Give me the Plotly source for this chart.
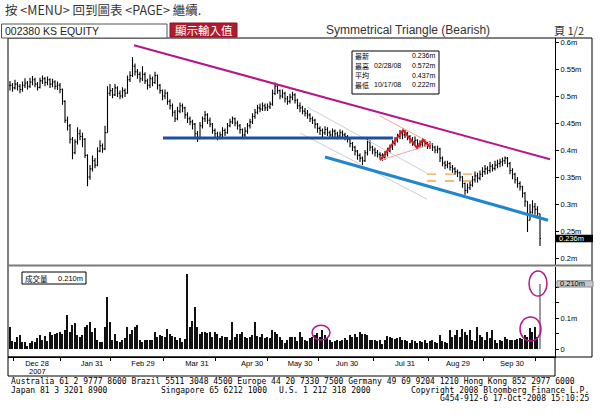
import plotly.graph_objects as go

# ---------------- data (prices in thousands of KRW, volume in thousands of shares) -------------
close = [520, 515, 522, 518, 512, 520, 524, 518, 526, 530,
         522, 516, 528, 532, 525, 530, 522, 526, 518, 520,
         512, 490, 455, 445, 420, 395, 415, 430, 425, 420,
         390, 350, 365, 380, 372, 398, 408, 402, 432, 505,
         510, 502, 515, 505, 500, 510, 505, 530, 538, 555,
         545, 540, 532, 540, 528, 520, 532, 525, 538, 520,
         510, 500, 505, 490, 482, 470, 458, 472, 482, 478,
         465, 458, 452, 448, 430, 422, 445, 458, 465, 455,
         448, 436, 430, 424, 428, 436, 432, 445, 452, 458,
         450, 445, 438, 428, 435, 445, 452, 462, 470, 478,
         476, 482, 478, 480, 485, 505, 518, 510, 500, 505,
         495, 490, 498, 502, 492, 482, 478, 472, 468, 465,
         458, 455, 448, 440, 436, 432, 438, 432, 428, 435,
         430, 426, 432, 428, 425, 420, 412, 405, 398, 390,
         385, 380, 395, 415, 405, 400, 395, 392, 390, 386,
         392, 398, 405, 412, 418, 425, 430, 428, 432, 425,
         420, 415, 418, 412, 410, 416, 412, 408, 410, 405,
         400, 402, 385, 376, 372, 375, 368, 365, 360, 358,
         350, 338, 325, 330, 335, 345, 352, 348, 355, 360,
         365, 362, 370, 366, 372, 375, 378, 380, 385, 375,
         362, 355, 345, 338, 332, 320, 305, 270, 285, 295,
         290, 282, 236]
high = [528, 524, 530, 526, 522, 527, 533, 528, 534, 537,
        534, 526, 534, 538, 535, 536, 533, 532, 529, 527,
        524, 514, 492, 462, 448, 424, 420, 442, 438, 432,
        422, 392, 372, 390, 385, 405, 418, 412, 445, 518,
        522, 515, 522, 518, 510, 516, 514, 538, 546, 572,
        560, 550, 545, 555, 544, 532, 540, 536, 545, 540,
        522, 512, 512, 508, 494, 486, 474, 480, 488, 486,
        480, 470, 462, 456, 450, 435, 452, 462, 472, 468,
        460, 450, 440, 434, 434, 442, 440, 450, 458, 462,
        460, 454, 448, 440, 442, 450, 458, 468, 476, 484,
        486, 488, 486, 486, 490, 512, 525, 520, 512, 512,
        508, 500, 504, 508, 505, 495, 488, 482, 478, 474,
        468, 462, 458, 450, 444, 440, 444, 442, 436, 440,
        438, 434, 438, 436, 432, 428, 422, 415, 408, 400,
        394, 388, 400, 422, 418, 408, 404, 400, 396, 394,
        398, 404, 410, 418, 424, 430, 437, 435, 437, 434,
        428, 424, 425, 420, 418, 422, 420, 415, 416, 413,
        408, 408, 404, 388, 380, 380, 378, 372, 368, 364,
        360, 352, 340, 338, 342, 352, 360, 358, 362, 368,
        372, 370, 378, 374, 380, 382, 384, 386, 388, 387,
        378, 366, 358, 350, 342, 334, 322, 290, 300, 307,
        302, 296, 276]
low = [510, 508, 512, 510, 505, 508, 515, 512, 515, 520,
       516, 510, 514, 522, 518, 520, 515, 516, 512, 511,
       505, 484, 450, 436, 412, 383, 392, 410, 418, 405,
       385, 333, 345, 360, 366, 370, 396, 395, 400, 440,
       500, 496, 500, 498, 494, 496, 498, 504, 526, 535,
       538, 532, 525, 528, 522, 512, 515, 518, 522, 512,
       504, 492, 494, 484, 475, 462, 452, 455, 468, 470,
       458, 450, 446, 438, 424, 415, 420, 440, 452, 448,
       442, 430, 424, 418, 420, 424, 426, 430, 442, 448,
       444, 438, 430, 422, 424, 430, 440, 448, 458, 466,
       470, 472, 472, 472, 476, 482, 502, 504, 494, 496,
       488, 484, 486, 492, 486, 476, 470, 466, 462, 458,
       452, 448, 440, 432, 428, 424, 428, 426, 422, 424,
       424, 420, 422, 422, 418, 414, 405, 398, 390, 382,
       378, 372, 378, 390, 398, 392, 388, 386, 384, 380,
       382, 388, 394, 400, 408, 414, 420, 420, 422, 418,
       412, 408, 410, 406, 404, 406, 406, 402, 402, 398,
       394, 394, 378, 370, 365, 366, 362, 358, 354, 350,
       342, 330, 317, 320, 326, 332, 340, 340, 344, 350,
       354, 355, 358, 360, 362, 366, 368, 370, 374, 368,
       355, 346, 338, 330, 325, 312, 295, 248, 270, 282,
       280, 275, 222]
volume = [72, 25, 24, 40, 45, 22, 22, 10, 18, 25,
          22, 35, 45, 28, 42, 25, 56, 45, 48, 52,
          55, 50, 60, 110, 56, 78, 85, 45, 40, 45,
          72, 78, 86, 55, 68, 30, 24, 24, 70, 168,
          86, 30, 48, 25, 24, 30, 35, 72, 50, 62,
          70, 78, 30, 22, 28, 30, 28, 28, 55, 40,
          45, 42, 40, 65, 48, 42, 40, 30, 35, 22,
          32, 242, 70, 90, 135, 72, 50, 55, 55, 52,
          56, 40, 55, 50, 35, 42, 40, 38, 30, 86,
          40, 48, 48, 56, 38, 35, 40, 45, 88, 42,
          40, 48, 35, 38, 35, 62, 55, 48, 40, 30,
          20, 28, 38, 40, 38, 25, 55, 40, 30, 25,
          35, 40, 45, 52, 40, 62, 45, 35, 28, 22,
          25, 28, 25, 30, 35, 28, 45, 38, 50, 40,
          55, 48, 48, 45, 30, 30, 28, 25, 28, 15,
          30, 42, 38, 36, 32, 35, 40, 28, 30, 25,
          20, 28, 25, 20, 25, 22, 30, 18, 25, 28,
          22, 18, 45, 25, 22, 20, 62, 38, 45, 62,
          40, 66, 56, 45, 60, 30, 25, 72, 45, 38,
          30, 56, 35, 62, 30, 18, 30, 25, 38, 32,
          30, 30, 28, 32, 35, 32, 45, 40, 68, 55,
          72, 38, 210]

date_labels = ["Dec 28", "Jan 31", "Feb 29", "Mar 31", "Apr 30",
               "May 30", "Jun 30", "Jul 31", "Aug 29", "Sep 30"]
date_label_pos = [10.8, 32.8, 53.2, 74.8, 96.8, 116, 134.8, 158, 179.2, 200.8]
month_tick_pos = [1.2, 20, 40, 61.2, 82, 102.8, 123.2, 145.2, 167.2, 189.2, 210]

price_ticks = [200, 250, 300, 350, 400, 450, 500, 550, 600]
price_tick_text = ["0.2m", "0.25m", "0.3m", "0.35m", "0.4m", "0.45m", "0.5m", "0.55m", "0.6m"]
vol_ticks = [0, 50, 100, 150, 200]
vol_tick_text = ["0", "", "0.1m", "", ""]

stat_names = ["最新", "最高", "平均", "最低"]
stat_dates = ["", "02/28/08", "", "10/17/08"]
stat_values = ["0.236m", "0.572m", "0.437m", "0.222m"]
last_price = 236
last_volume = 210

# analyst markup (bar index, price)
upper_line_x, upper_line_y = [49.6, 216], [594, 383]
neck_line_x, neck_line_y = [61.2, 153.2], [422, 422]
lower_line_x, lower_line_y = [126, 215.2], [387, 270]
chan_a_x, chan_a_y = [118.8, 166.8], [480, 357]
chan_b_x, chan_b_y = [116, 166.8], [431.5, 309]
zig_x, zig_y = [148, 157.2, 162.8, 165.2, 168], [381, 437, 404, 419, 406]
tri_up_x, tri_up_y = [148, 169], [463, 411]
tri_lo_x, tri_lo_y = [148, 169], [381, 411]
target_x = [166.8, 184.8]
target_levels = [355.5, 342.6]
vol_circles = [(120.8, 128, 29, 77), (204, 212.4, 26, 103), (207.6, 214.8, 171, 252)]

# ---------------- layout helpers --------------------------------------------------------------
W, H = 600, 414
def px(x):
    return x / W
def py(y):
    return 1 - y / H

X0, XS = 10.0, 2.5              # pixel of bar 0, pixels per bar
def xi(xp):
    return (xp - X0) / XS
def pv(yp):                      # price value at pixel
    return 600 - (yp - 42) * 50 / 27
def vv(yp):                      # volume value at pixel
    return (349 - yp) * 100 / 31

idx = list(range(len(close)))
opn = [close[0]] + close[:-1]
hi = [max(h, o, c) for h, o, c in zip(high, opn, close)]
lo = [min(l, o, c) for l, o, c in zip(low, opn, close)]

fig = go.Figure()
fig.add_trace(go.Ohlc(x=idx, open=opn, high=hi, low=lo, close=close,
                      increasing_line_color="#000", decreasing_line_color="#000",
                      line_width=1.1, tickwidth=0.4, hoverinfo="skip",
                      xaxis="x", yaxis="y"))

def seg(xs, ys, color, width, dash="solid"):
    fig.add_trace(go.Scatter(x=xs, y=ys, mode="lines", line=dict(color=color, width=width, dash=dash),
                             hoverinfo="skip", xaxis="x", yaxis="y"))

seg(chan_a_x, chan_a_y, "#cfcfcf", 1)
seg(chan_b_x, chan_b_y, "#cfcfcf", 1)
seg(tri_up_x, tri_up_y, "#f5a3a3", 1)
seg(tri_lo_x, tri_lo_y, "#f5a3a3", 1)
for lv in target_levels:
    seg(target_x, [lv, lv], "#f2a445", 1.3, "dash")
seg(upper_line_x, upper_line_y, "#b5178a", 2)
seg(neck_line_x, neck_line_y, "#1f4f9e", 3)
seg(lower_line_x, lower_line_y, "#1f86cf", 3)
seg(zig_x, zig_y, "#e8141c", 2)

vol_colors = ["#111111"] * (len(volume) - 1) + ["#9a9a9a"]
fig.add_trace(go.Bar(x=idx, y=volume, marker=dict(color=vol_colors, line=dict(width=0)),
                     width=0.55, hoverinfo="skip", xaxis="x2", yaxis="y2"))
fig.add_trace(go.Scatter(x=[None], y=[None], xaxis="x3", yaxis="y2", showlegend=False))

xr = [xi(8), xi(555)]
dom_x = [px(8), px(555)]
tickfont = dict(family="Liberation Sans", size=7.5, color="#000")

shapes = []
# frames
shapes.append(dict(type="rect", xref="paper", yref="paper", x0=px(8), x1=px(592), y0=py(357), y1=py(38),
                   line=dict(color="#000", width=1)))
shapes.append(dict(type="rect", xref="paper", yref="paper", x0=px(8), x1=px(555), y0=py(376), y1=py(357),
                   line=dict(color="#000", width=1)))
shapes.append(dict(type="line", xref="paper", yref="paper", x0=px(8), x1=px(592), y0=py(265.5), y1=py(265.5),
                   line=dict(color="#7a7a7a", width=2)))
# header boxes
shapes.append(dict(type="rect", xref="paper", yref="paper", x0=px(1.5), x1=px(167), y0=py(38), y1=py(24),
                   line=dict(color="#555", width=1), fillcolor="#fff"))
shapes.append(dict(type="rect", xref="paper", yref="paper", x0=px(170), x1=px(237), y0=py(37), y1=py(23),
                   line=dict(color="#8a1020", width=1), fillcolor="#b01c2e"))
# stats box
shapes.append(dict(type="rect", xref="paper", yref="paper", x0=px(352), x1=px(439), y0=py(94), y1=py(51),
                   line=dict(color="#000", width=1), fillcolor="#fff"))
# volume legend box
shapes.append(dict(type="rect", xref="paper", yref="paper", x0=px(22), x1=px(86), y0=py(284), y1=py(272),
                   line=dict(color="#000", width=1), fillcolor="#fff"))
# last price / last volume tags
shapes.append(dict(type="rect", xref="paper", yref="y", x0=px(556), x1=px(593),
                   y0=last_price - 7, y1=last_price + 7, line=dict(width=0), fillcolor="#000"))
shapes.append(dict(type="rect", xref="paper", yref="y2", x0=px(557), x1=px(593),
                   y0=last_volume - 10, y1=last_volume + 10, line=dict(color="#888", width=1), fillcolor="#c8c8c8"))
# volume circles
for x0, x1, y0, y1 in vol_circles:
    shapes.append(dict(type="circle", xref="x2", yref="y2", x0=x0, x1=x1, y0=y0, y1=y1,
                       line=dict(color="#b5178a", width=1.5)))

ann = []
def txt(x, y, s, size, family="Liberation Sans", color="#222", xanchor="left", yref="paper", xref="paper"):
    ann.append(dict(x=x, y=y, xref=xref, yref=yref, text=s, showarrow=False, xanchor=xanchor,
                    yanchor="middle", borderpad=0, font=dict(family=family, size=size, color=color)))

cjk = "Noto Sans CJK TC"
txt(px(4), py(9.5), "按 &lt;MENU&gt; 回到圖表 &lt;PAGE&gt; 繼續.", 12.5, cjk, "#333")
txt(px(3.5), py(31), "002380 KS EQUITY", 10.5, "Liberation Sans", "#222")
txt(px(203.5), py(30), "顯示輸入值", 11.5, cjk, "#fff", "center")
txt(px(408), py(30.5), "Symmetrical Triangle (Bearish)", 12, "Liberation Sans", "#333", "center")
txt(px(553), py(30), "頁 1/2", 11, cjk, "#333")

rows_y = [56, 65.5, 75, 84.5]
for name, d, v, ry in zip(stat_names, stat_dates, stat_values, rows_y):
    txt(px(354), py(ry), name, 7, cjk, "#000")
    if d:
        txt(px(373), py(ry), d, 7, "Liberation Sans", "#000")
    txt(px(437), py(ry), v, 7, "Liberation Sans", "#000", "right")

txt(px(24), py(278), "成交量", 7.5, cjk, "#000")
txt(px(84), py(278.5), "0.210m", 7.5, "Liberation Sans", "#000", "right")
txt(px(558), last_price, "0.236m", 7.5, "Liberation Sans", "#fff", yref="y")
txt(px(559), last_volume, "0.210m", 7.5, "Liberation Sans", "#000", yref="y2")
txt(date_label_pos[0], py(371), "2007", 7.5, "Liberation Sans", "#000", "center", xref="x2")

mono = "DejaVu Sans Mono"
fs = 8
txt(px(10), py(381.5),
    "Australia 61 2 9777 8600 Brazil 5511 3048 4500 Europe 44 20 7330 7500 Germany 49 69 9204 1210 Hong Kong 852 2977 6000",
    fs, mono, "#000")
txt(px(10), py(390), "Japan 81 3 3201 8900", fs, mono, "#000")
txt(px(160), py(390), "Singapore 65 6212 1000", fs, mono, "#000")
txt(px(278), py(390), "U.S. 1 212 318 2000", fs, mono, "#000")
txt(px(590), py(390), "Copyright 2008 Bloomberg Finance L.P.", fs, mono, "#000", "right")
txt(px(590), py(398.5), "G454-912-6 17-Oct-2008 15:10:25", fs, mono, "#000", "right")

fig.update_layout(
    width=W, height=H, margin=dict(l=0, r=0, t=0, b=0),
    paper_bgcolor="#fff", plot_bgcolor="#fff", showlegend=False,
    xaxis=dict(domain=dom_x, range=xr, anchor="y", showticklabels=False, ticks="",
               showgrid=False, zeroline=False, showline=False, rangeslider=dict(visible=False)),
    yaxis=dict(domain=[py(265), py(38)], range=[pv(265), pv(38)], side="right", anchor="x",
               tickvals=price_ticks, ticktext=price_tick_text, ticks="outside", ticklen=3,
               tickcolor="#000", showline=True, linecolor="#000", linewidth=1,
               showgrid=False, zeroline=False, tickfont=tickfont),
    xaxis2=dict(domain=dom_x, range=xr, anchor="y2", tickvals=date_label_pos, ticktext=date_labels,
                ticks="", showgrid=False, zeroline=False, showline=False, tickfont=tickfont),
    xaxis3=dict(overlaying="x2", range=xr, anchor="y2", tickvals=month_tick_pos, ticks="outside",
                ticklen=3, tickcolor="#000", showticklabels=False, showgrid=False, zeroline=False,
                showline=True, linecolor="#000"),
    yaxis2=dict(domain=[py(357), py(267)], range=[vv(357), vv(267)], side="right", anchor="x2",
                tickvals=vol_ticks, ticktext=vol_tick_text, ticks="outside", ticklen=3,
                tickcolor="#000", showline=True, linecolor="#000", linewidth=1,
                showgrid=False, zeroline=False, tickfont=tickfont),
    bargap=0, shapes=shapes, annotations=ann,
)

fig.write_html("out.html")
